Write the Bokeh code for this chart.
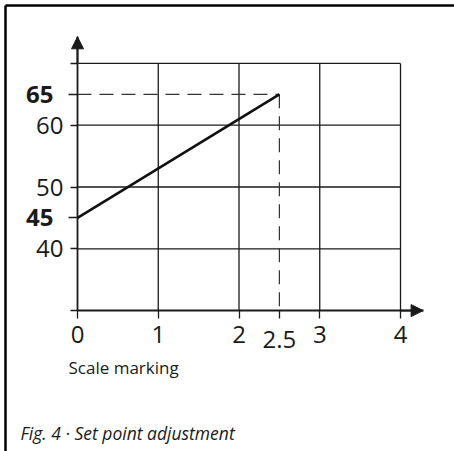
from bokeh.plotting import figure
from bokeh.models import (LinearAxis, FixedTicker, Range1d, Arrow, NormalHead,
                          Label)
from bokeh.embed import file_html
from bokeh.resources import INLINE

# ---- data ----
x_ticks = [0, 1, 2, 3, 4]
y_ticks = [30, 40, 50, 60, 70]
y_hidden = {30: "", 70: ""}
marked_y = [45, 65]
marked_x = [2.5]
line_x = [0, 2.5]
line_y = [45, 65]
x_axis_end = 4.28
y_axis_end = 74.3
x_label = "Scale marking"
caption = "Fig. 4 · Set point adjustment"

FONT = "Open Sans"
INK = "#1a1a1a"

x_min, x_max = -0.9536, 4.6687
y_min, y_max = 7.201, 80.178
border_x = -0.8916
border_y = 79.37

p = figure(width=454, height=451, x_range=Range1d(x_min, x_max),
           y_range=Range1d(y_min, y_max), output_backend="svg",
           toolbar_location=None, min_border=0,
           x_axis_type=None, y_axis_type=None)
p.outline_line_color = None
p.background_fill_color = "white"
p.border_fill_color = "white"

# frame border (top and left)
p.segment(x0=[border_x, border_x], x1=[border_x, x_max],
          y0=[y_min, border_y], y1=[border_y, border_y],
          line_color="#000000", line_width=2.5)

# grid lines (only inside data area)
gy = [v for v in y_ticks[1:]]
p.segment(x0=[x_ticks[0]] * len(gy), x1=[x_ticks[-1]] * len(gy), y0=gy, y1=gy,
          line_color=INK, line_width=1.3)
gx = [v for v in x_ticks[1:]]
p.segment(x0=gx, x1=gx, y0=[y_ticks[0]] * len(gx), y1=[y_ticks[-1]] * len(gx),
          line_color=INK, line_width=1.3)

# dashed guides
p.line([line_x[0], line_x[1]], [line_y[1], line_y[1]], line_color="#333333",
       line_width=1.2, line_dash="14 8")
p.line([line_x[1], line_x[1]], [line_y[1], y_ticks[0]], line_color="#333333",
       line_width=1.2, line_dash="14 8")

# main line
p.line(line_x, line_y, line_color="#111111", line_width=2.6)

def style_axis(ax, size="24px", bold=False):
    ax.major_tick_in = 0
    ax.minor_tick_line_color = None
    ax.major_tick_line_color = INK
    ax.major_tick_line_width = 1.3
    ax.axis_line_color = INK
    ax.axis_line_width = 1.8
    ax.major_label_text_font = FONT
    ax.major_label_text_font_size = size
    ax.major_label_text_color = INK
    if bold:
        ax.major_label_text_font_style = "bold"

ay = LinearAxis(fixed_location=0, ticker=FixedTicker(ticks=y_ticks),
                bounds=(y_ticks[0], y_axis_end), major_label_overrides=y_hidden)
style_axis(ay)
ay.major_tick_out = 7
ay.major_label_standoff = 7
p.add_layout(ay, "left")

ay2 = LinearAxis(fixed_location=0, ticker=FixedTicker(ticks=marked_y),
                 bounds=(y_ticks[0], y_axis_end))
style_axis(ay2, bold=True)
ay2.axis_line_color = None
ay2.major_tick_out = 9
ay2.major_label_standoff = 15
p.add_layout(ay2, "left")

ax = LinearAxis(fixed_location=y_ticks[0], ticker=FixedTicker(ticks=x_ticks),
                bounds=(x_ticks[0], x_axis_end))
style_axis(ax)
ax.major_tick_out = 8
ax.major_label_standoff = 7
p.add_layout(ax, "below")

ax2 = LinearAxis(fixed_location=y_ticks[0], ticker=FixedTicker(ticks=marked_x),
                 bounds=(x_ticks[0], x_axis_end))
style_axis(ax2)
ax2.axis_line_color = None
ax2.major_tick_out = 8
ax2.major_label_standoff = 12
p.add_layout(ax2, "below")

# arrow heads
p.add_layout(Arrow(end=NormalHead(size=12, fill_color=INK, line_color=INK, line_width=1),
                   x_start=x_ticks[-1], y_start=y_ticks[0], x_end=x_axis_end, y_end=y_ticks[0],
                   line_color=INK, line_width=1.8))
p.add_layout(Arrow(end=NormalHead(size=12, fill_color=INK, line_color=INK, line_width=1),
                   x_start=x_ticks[0], y_start=y_ticks[-1], x_end=x_ticks[0], y_end=y_axis_end,
                   line_color=INK, line_width=1.8))

# labels
p.add_layout(Label(x=x_ticks[0], y=y_ticks[0], x_offset=-9, y_offset=-57, text=x_label,
                   text_font=FONT, text_font_size="17px", text_color=INK,
                   text_baseline="alphabetic"))
p.add_layout(Label(x=20, y=19, x_units="screen", y_units="screen", text=caption,
                   text_font=FONT, text_font_size="17.5px", text_font_style="italic",
                   text_color=INK, text_baseline="alphabetic"))

open("out.html", "w").write(file_html(p, INLINE))
